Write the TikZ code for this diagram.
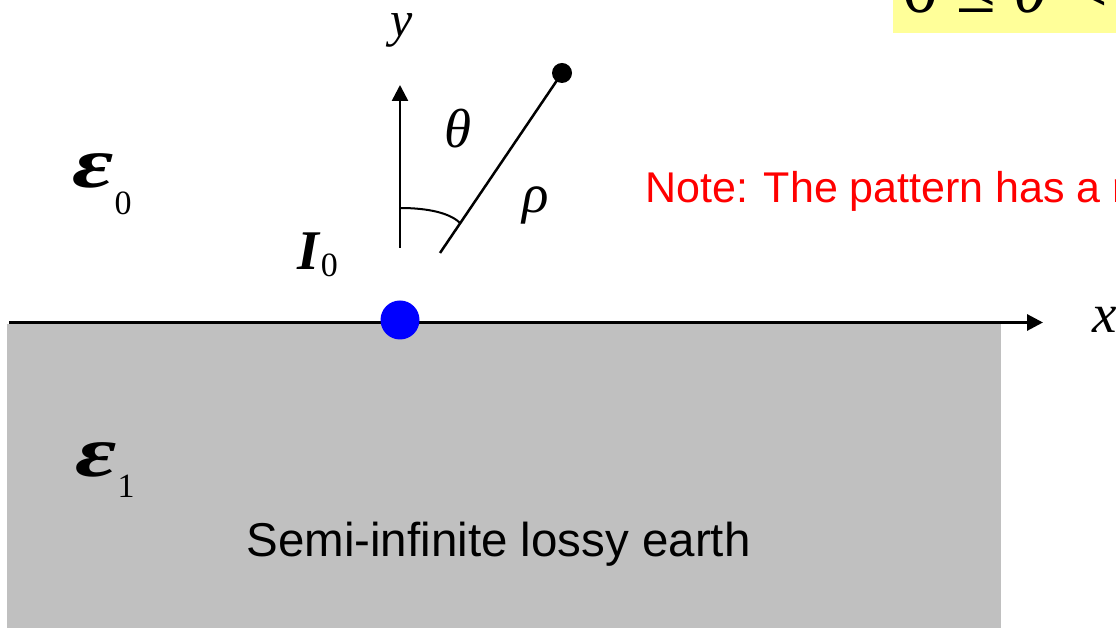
\documentclass[tikz,border=0pt]{standalone}
\usepackage{graphicx}
\usepackage{fontspec}
\setmainfont{Liberation Sans}
\newfontfamily\tms{Liberation Serif}
\usetikzlibrary{arrows.meta}
\definecolor{earth}{HTML}{C0C0C0}
\definecolor{srcblue}{HTML}{0000FF}
\definecolor{notered}{HTML}{FF0000}
\definecolor{hilite}{HTML}{FFFF99}
\newcommand{\dropsub}[2]{\raisebox{-#1}{\fontsize{34}{34}\selectfont\tms\upshape\mdseries #2}}
\newcommand{\wideeps}{\scalebox{1.4}[1]{ε}}

\begin{document}
\begin{tikzpicture}[x=1pt, y=1pt, every node/.style={inner sep=0pt, anchor=base},
    sym/.style={font=\fontsize{55}{60}\selectfont\tms\itshape},
    eps/.style={font=\fontsize{72}{76}\selectfont\tms\bfseries\itshape, anchor=base west},
    axis/.style={line width=3pt, -{Triangle[length=16pt, width=16pt]}},
    rod/.style={line width=2.5pt}]
    \useasboundingbox (0,0) rectangle (1116,628);
    \clip (0,0) rectangle (1116,628);
    % the earth and the interface
    \fill[earth] (7,0) rectangle (1001,304);
    \coordinate (xfrom) at (9,305.5);
    \coordinate (xto) at (1043,305.5);
    \draw[axis] (xfrom) -- (xto);
    \node[sym] (xlab) at (1105,295) {x};
    \coordinate (yfrom) at (400,380);
    \coordinate (yto) at (400,543);
    \draw[axis, line width=2.5pt] (yfrom) -- (yto);
    \node[sym, font=\fontsize{50}{54}\selectfont\tms\itshape] (ylab) at (402,591) {y};
    % observation point
    \coordinate (rhofoot) at (440,375);
    \node[circle, fill=black, minimum size=20pt, anchor=center] (obs) at (562,555) {};
    \draw[rod] (rhofoot) -- (obs.center);
    \draw[line width=2pt] (400,420) .. controls (428,420) and (450,415) .. (460,405);
    \node[sym] (theta) at (458,480) {θ};
    \node[sym] (rho) at (536,415) {ρ};
    % the line source
    \node[circle, fill=srcblue, minimum size=39pt, anchor=center] (src) at (400,308) {};
    \node[sym, font=\fontsize{56}{60}\selectfont\tms\bfseries\itshape, anchor=base west] (cur) at (297,358) {I\kern2pt\dropsub{7pt}{0}};
    % media
    \node[eps] (eps0) at (72,440) {\wideeps\kern1pt\dropsub{27pt}{0}};
    \node[eps] (eps1) at (75,151) {\wideeps\kern1pt\dropsub{21pt}{1}};
    \node[font=\fontsize{47.5}{50}\selectfont] (earthlab) at (498.5,71) {Semi-infinite lossy earth};
    \node[font=\fontsize{43}{46}\selectfont, text=notered, anchor=base west] (note) at (645,425) {Note: The pattern has a r};
    % range of the angle
    \fill[hilite] (893,595) rectangle (1130,660);
    \node[font=\fontsize{72}{76}\selectfont\tms, anchor=base west] (range) at (902,615) {0 ≤ \textit{θ} <};
\end{tikzpicture}
\end{document}
